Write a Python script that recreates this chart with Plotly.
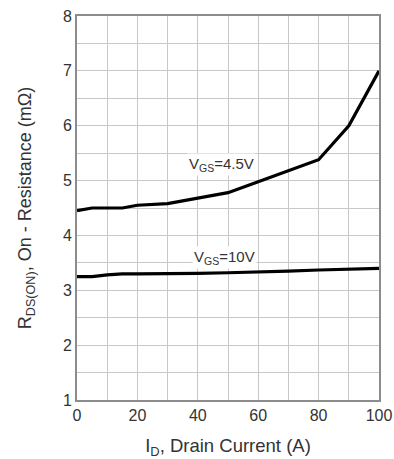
import plotly.graph_objects as go

# Drain current (A)
drain_current = [0, 5, 10, 15, 20, 30, 40, 50, 60, 70, 80, 90, 100]
# On-resistance (mOhm) at VGS = 4.5 V
rds_vgs_4v5 = [4.45, 4.5, 4.5, 4.5, 4.55, 4.58, 4.68, 4.78, 4.98, 5.18, 5.38, 6.0, 7.0]
# On-resistance (mOhm) at VGS = 10 V
rds_vgs_10v = [3.25, 3.25, 3.28, 3.3, 3.3, 3.3, 3.31, 3.32, 3.33, 3.35, 3.37, 3.38, 3.4]

x_ticks = [0, 20, 40, 60, 80, 100]
y_ticks = [1, 2, 3, 4, 5, 6, 7, 8]

FONT = "Liberation Sans, Arial, sans-serif"
TEXT = "#333333"

fig = go.Figure()
for ys in (rds_vgs_4v5, rds_vgs_10v):
    fig.add_trace(go.Scatter(
        x=drain_current, y=ys, mode="lines",
        line=dict(color="black", width=3.2),
        showlegend=False, hoverinfo="skip",
    ))

label_font = dict(family=FONT, size=15, color=TEXT)
fig.add_annotation(x=48, y=5.3, text="V<sub>GS</sub>=4.5V", showarrow=False,
                   font=label_font, bgcolor="white", borderpad=1)
fig.add_annotation(x=49, y=3.59, text="V<sub>GS</sub>=10V", showarrow=False,
                   font=label_font, bgcolor="white", borderpad=1)

axis_common = dict(
    showgrid=True, gridcolor="#c8c8c8", gridwidth=1.3,
    showline=True, linecolor="#8c8c8c", linewidth=1.6, mirror=True,
    zeroline=False, ticks="", tickfont=dict(family=FONT, size=16, color=TEXT),
)

fig.update_xaxes(
    range=[0, 100], tickvals=x_ticks,
    minor=dict(dtick=10, showgrid=True, gridcolor="#c8c8c8", gridwidth=1.3),
    title=dict(text="I<sub>D</sub>, Drain Current (A)",
               font=dict(family=FONT, size=18.5, color=TEXT), standoff=22),
    **axis_common,
)
fig.update_yaxes(
    range=[1, 8], tickvals=y_ticks,
    minor=dict(dtick=0.5, showgrid=True, gridcolor="#c8c8c8", gridwidth=1.3),
    title=dict(text="R<sub>DS(ON)</sub>, On - Resistance (m\u03a9)",
               font=dict(family=FONT, size=18, color=TEXT), standoff=27),
    **axis_common,
)

fig.update_layout(
    width=394, height=459,
    margin=dict(l=77, r=15, t=16, b=59, autoexpand=False),
    paper_bgcolor="white", plot_bgcolor="white",
    font=dict(family=FONT, color=TEXT),
)

fig.write_html("out.html")
